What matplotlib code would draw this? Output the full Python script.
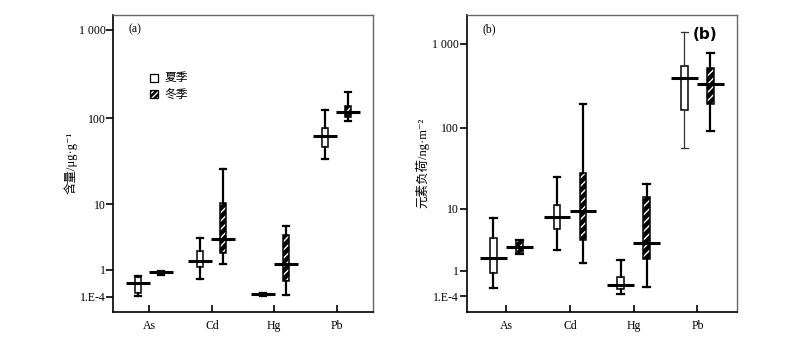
import numpy as np
import matplotlib
matplotlib.use("Agg")
import matplotlib.pyplot as plt
from matplotlib.patches import PathPatch, Rectangle

plt.rcParams['font.family'] = ['Liberation Serif', 'Noto Sans CJK SC', 'DejaVu Sans']
plt.rcParams['hatch.color'] = 'white'
plt.rcParams['hatch.linewidth'] = 1.0

categories = ['As', 'Cd', 'Hg', 'Pb']
ytick_values = [1e-4, 1, 10, 100, 1000]
ytick_labels = ['1.E-4', '1', '10', '100', '1 000']
legend_labels = ['夏季', '冬季']

# Panel (a) content, ug/g
a_sum_whislo = [0.018, 0.57, 0.02, 34.4]
a_sum_q1 = [0.11, 1.18, 0.02, 47.3]
a_sum_med = [0.415, 1.50, 0.064, 63.2]
a_sum_q3 = [0.68, 2.24, 0.11, 77.4]
a_sum_whishi = [0.70, 3.61, 0.11, 125.0]

a_win_whislo = [0.75, 1.31, 0.045, 94.4]
a_win_q1 = [0.754, 2.08, 0.51, 104.9]
a_win_med = [0.88, 3.46, 1.33, 117.6]
a_win_q3 = [0.96, 10.2, 3.94, 137.6]
a_win_whishi = [0.97, 26.3, 5.29, 198.0]

# Panel (b) load, ng/m2
b_sum_whislo = [0.255, 2.52, 0.047, 56.7]
b_sum_q1 = [0.86, 5.37, 0.22, 161.0]
b_sum_med = [1.85, 7.74, 0.35, 390.0]
b_sum_q3 = [3.92, 11.3, 0.695, 542.0]
b_sum_whishi = [7.51, 25.1, 1.70, 1376.0]

b_win_whislo = [2.18, 1.51, 0.30, 90.0]
b_win_q1 = [2.18, 3.71, 1.80, 191.0]
b_win_med = [2.89, 9.22, 3.34, 331.0]
b_win_q3 = [3.71, 28.5, 14.3, 519.0]
b_win_whishi = [3.71, 190.0, 20.6, 783.0]


def fwd(x):
    return np.log10(np.maximum(1.0 + np.asarray(x, dtype=float), 1e-12))


def inv(s):
    return 10.0 ** np.asarray(s, dtype=float) - 1.0


def stats(lo, q1, med, q3, hi):
    return [dict(whislo=a, q1=b, med=c, q3=d, whishi=e, fliers=[])
            for a, b, c, d, e in zip(lo, q1, med, q3, hi)]


fig = plt.figure(figsize=(8.0, 3.38), dpi=100)


def panel(rect, ylim, xlim, off, bw, mw, s_stats, w_stats, ylabel, tag, lpad, thin_last=False):
    ax = fig.add_axes(rect)
    ax.set_yscale('function', functions=(fwd, inv))
    pos = np.arange(1, len(categories) + 1)
    # summer
    bs = ax.bxp(s_stats, positions=pos - off, widths=bw, capwidths=bw, patch_artist=True,
                showfliers=False,
                boxprops=dict(facecolor='white', edgecolor='black', linewidth=1.1),
                whiskerprops=dict(color='black', linewidth=1.6),
                capprops=dict(color='black', linewidth=1.6),
                medianprops=dict(linewidth=0))
    if thin_last:
        for ln in bs['whiskers'][-2:] + bs['caps'][-2:]:
            ln.set_linewidth(0.9)
            ln.set_color('#333333')
    bw_ = ax.bxp(w_stats, positions=pos + off, widths=bw, capwidths=bw, patch_artist=True,
                 showfliers=False,
                 boxprops=dict(facecolor='black', edgecolor='white', linewidth=0, hatch='////'),
                 whiskerprops=dict(color='black', linewidth=1.6),
                 capprops=dict(color='black', linewidth=1.6),
                 medianprops=dict(linewidth=0))
    for b in bw_['boxes']:
        ax.add_patch(PathPatch(b.get_path(), fill=False, edgecolor='black', linewidth=1.1,
                               zorder=b.get_zorder() + 0.1))
    smed = [d['med'] for d in s_stats]
    wmed = [d['med'] for d in w_stats]
    ax.hlines(smed, pos - off - mw / 2, pos - off + mw / 2, color='black', linewidth=2.2, zorder=5)
    ax.hlines(wmed, pos + off - mw / 2, pos + off + mw / 2, color='black', linewidth=2.2, zorder=5)

    ax.set_xlim(*xlim)
    ax.set_ylim(*ylim)
    ax.set_xticks(pos)
    ax.set_xticklabels(categories, fontsize=8.5)
    ax.set_yticks(ytick_values)
    ax.set_yticklabels(ytick_labels, fontsize=8.5)
    ax.yaxis.set_minor_locator(matplotlib.ticker.NullLocator())
    ax.tick_params(axis='x', direction='in', length=5, width=1.2, pad=6)
    ax.tick_params(axis='y', direction='out', length=5, width=1.2, pad=0.5)
    for side in ['top', 'right']:
        ax.spines[side].set_color('#666666')
        ax.spines[side].set_linewidth(1.0)
    for side in ['left', 'bottom']:
        ax.spines[side].set_color('black')
        ax.spines[side].set_linewidth(1.2)
    ax.set_ylabel(ylabel, fontsize=9, labelpad=lpad)
    ax.text(0.06, 0.95, tag, transform=ax.transAxes, fontsize=8.5, va='center', ha='left')
    return ax


ax1 = panel([0.1416, 0.0778, 0.3243, 0.8787], (-0.322, 1484.0), (0.42, 4.58), 0.184, 0.096, 0.384,
            stats(a_sum_whislo, a_sum_q1, a_sum_med, a_sum_q3, a_sum_whishi),
            stats(a_win_whislo, a_win_q1, a_win_med, a_win_q3, a_win_whishi),
            '含量/μg·g⁻¹', '(a)', 1)
ax2 = panel([0.5834, 0.0778, 0.3373, 0.8787], (-0.348, 2232.0), (0.378, 4.615), 0.204, 0.105, 0.42,
            stats(b_sum_whislo, b_sum_q1, b_sum_med, b_sum_q3, b_sum_whishi),
            stats(b_win_whislo, b_win_q1, b_win_med, b_win_q3, b_win_whishi),
            '元素负荷/ng·m⁻²', '(b)', 2, thin_last=True)

ax2.text(0.885, 0.935, '(b)', transform=ax2.transAxes, fontsize=11, fontweight='bold',
         family=['DejaVu Sans'], ha='center', va='center')

# legend in panel (a)
sq = 0.030
for i, lab in enumerate(legend_labels):
    yc = 0.787 - i * 0.055
    x0 = 0.142
    if i == 0:
        ax1.add_patch(Rectangle((x0, yc - 0.013), sq, 0.026, transform=ax1.transAxes,
                                facecolor='white', edgecolor='black', linewidth=0.9, zorder=6))
    else:
        ax1.add_patch(Rectangle((x0, yc - 0.013), sq, 0.026, transform=ax1.transAxes,
                                facecolor='black', edgecolor='white', linewidth=0, hatch='//////', zorder=6))
        ax1.add_patch(Rectangle((x0, yc - 0.013), sq, 0.026, transform=ax1.transAxes,
                                fill=False, edgecolor='black', linewidth=0.9, zorder=7))
    ax1.text(x0 + sq + 0.025, yc, lab, transform=ax1.transAxes, fontsize=8.5,
             family=['Noto Sans CJK SC'], va='center', ha='left')

fig.savefig('out.png', dpi=100)
